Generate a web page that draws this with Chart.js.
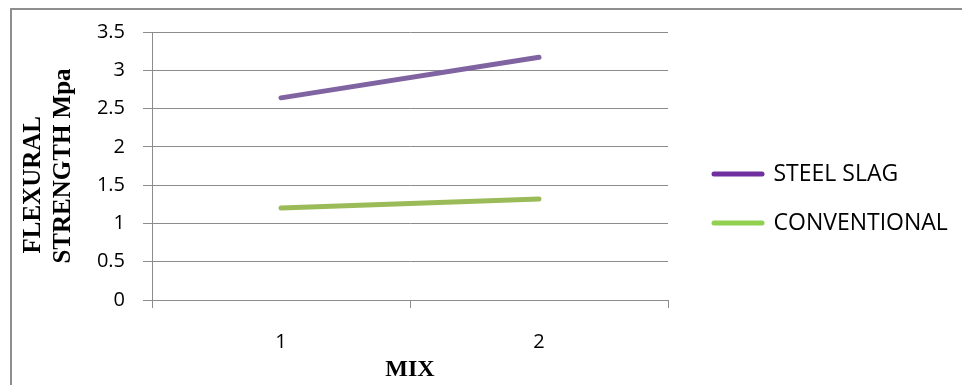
<!DOCTYPE html>
<html>
<head>
<meta charset="utf-8">
<title>Flexural strength by mix</title>
<script src="https://cdn.jsdelivr.net/npm/chart.js@4.4.1/dist/chart.umd.min.js"></script>
<style>
  html, body { margin: 0; padding: 0; background: #fff; overflow: hidden; }
  #wrap { position: relative; width: 962px; height: 385px; }
  #frame { position: absolute; left: 10px; top: 8px; width: 1000px; height: 430px;
           border: 2px solid #8e8e8e; box-sizing: border-box; }
  canvas { position: absolute; left: 0; top: 0; }
</style>
</head>
<body>
<div id="wrap">
  <div id="frame"></div>
  <canvas id="chart" width="962" height="385"></canvas>
</div>
<script>
// Mix numbers on the category axis
const mixes = ['1', '2'];

// Flexural strength (MPa) for each mix
const steelSlag = [2.64, 3.17];
const conventional = [1.2, 1.32];

const seriesNames = ['STEEL SLAG', 'CONVENTIONAL'];

// Value axis range
const yMin = 0;
const yMax = 3.5;
const yStep = 0.5;

// Axis titles
const yTitleLines = ['FLEXURAL\u00a0\u00a0\u00a0\u00a0\u00a0\u00a0', 'STRENGTH Mpa'];
const xTitleText = 'MIX';

// Styling
const lineColors = ['#8064A2', '#9BBB59'];
const legendColors = ['#7030A0', '#92D050'];
const gridColor = '#8c8c8c';
const sansFamily = '"Open Sans", "Noto Sans", sans-serif';
const serifFamily = '"Liberation Serif", "DejaVu Serif", serif';

// Legend geometry: work out its width so it sits just right of the plot
const LEGEND_FONT = 23;
const LEGEND_PAD = 26;
const LEGEND_BOX = 48;
const LEGEND_LEFT = 688;
const measureCtx = document.createElement('canvas').getContext('2d');
measureCtx.font = LEGEND_FONT + 'px ' + sansFamily;
const longestLabel = Math.max(...seriesNames.map(s => measureCtx.measureText(s).width));
const legendWidth = LEGEND_PAD + LEGEND_BOX + LEGEND_FONT / 2 + longestLabel + 10;
const rightPadding = 962 - LEGEND_LEFT - legendWidth;

new Chart(document.getElementById('chart'), {
  type: 'line',
  data: {
    labels: mixes,
    datasets: [
      {
        label: seriesNames[0],
        data: steelSlag,
        borderColor: lineColors[0],
        backgroundColor: lineColors[0],
        borderWidth: 5,
        borderCapStyle: 'round',
        borderJoinStyle: 'round',
        pointRadius: 0,
        pointHoverRadius: 0,
        tension: 0
      },
      {
        label: seriesNames[1],
        data: conventional,
        borderColor: lineColors[1],
        backgroundColor: lineColors[1],
        borderWidth: 5,
        borderCapStyle: 'round',
        borderJoinStyle: 'round',
        pointRadius: 0,
        pointHoverRadius: 0,
        tension: 0
      }
    ]
  },
  options: {
    responsive: false,
    animation: false,
    devicePixelRatio: 1,
    layout: {
      padding: { top: 12, right: rightPadding, bottom: 0, left: 0 }
    },
    plugins: {
      tooltip: { enabled: false },
      title: { display: false },
      legend: {
        display: true,
        position: 'right',
        align: 'center',
        maxWidth: 400,
        labels: {
          usePointStyle: true,
          pointStyleWidth: LEGEND_BOX,
          padding: LEGEND_PAD,
          color: '#000',
          font: { family: sansFamily, size: LEGEND_FONT },
          generateLabels(chart) {
            return chart.data.datasets.map((ds, i) => ({
              text: ds.label,
              fillStyle: legendColors[i],
              strokeStyle: legendColors[i],
              lineWidth: 5,
              lineCap: 'round',
              pointStyle: 'line',
              fontColor: '#000',
              hidden: !chart.isDatasetVisible(i),
              datasetIndex: i
            }));
          }
        }
      }
    },
    scales: {
      x: {
        type: 'category',
        position: 'bottom',
        offset: true,
        grid: {
          display: true,
          offset: true,
          drawOnChartArea: false,
          drawTicks: true,
          tickLength: 8,
          color: gridColor,
          lineWidth: 1
        },
        border: { display: true, color: gridColor, width: 1 },
        ticks: {
          color: '#000',
          padding: 22,
          font: { family: sansFamily, size: 20 }
        },
        title: {
          display: true,
          text: xTitleText,
          color: '#000',
          padding: { top: 0, bottom: 1 },
          font: { family: serifFamily, size: 24, weight: 'bold' }
        },
        afterFit(scale) { scale.height = 85; }
      },
      xTop: {
        axis: 'x',
        type: 'category',
        position: 'top',
        display: true,
        grid: { display: false },
        border: { display: false },
        ticks: { display: false },
        afterFit(scale) { scale.height = 20; }
      },
      y: {
        type: 'linear',
        position: 'left',
        min: yMin,
        max: yMax,
        grid: {
          display: true,
          drawTicks: true,
          tickLength: 9,
          color: gridColor,
          lineWidth: 1
        },
        border: { display: true, color: gridColor, width: 1 },
        ticks: {
          stepSize: yStep,
          color: '#000',
          padding: 18,
          font: { family: sansFamily, size: 20 },
          callback: (value) => String(value)
        },
        title: {
          display: true,
          text: yTitleLines,
          color: '#000',
          padding: { top: 19, bottom: 0 },
          font: { family: serifFamily, size: 25, weight: 'bold', lineHeight: 1.2 }
        },
        afterFit(scale) { scale.width = 152; }
      },
      yRight: {
        axis: 'y',
        type: 'linear',
        position: 'right',
        display: true,
        grid: { display: false },
        border: { display: false },
        ticks: { display: false },
        afterFit(scale) { scale.width = 20; }
      }
    }
  }
});
</script>
</body>
</html>
